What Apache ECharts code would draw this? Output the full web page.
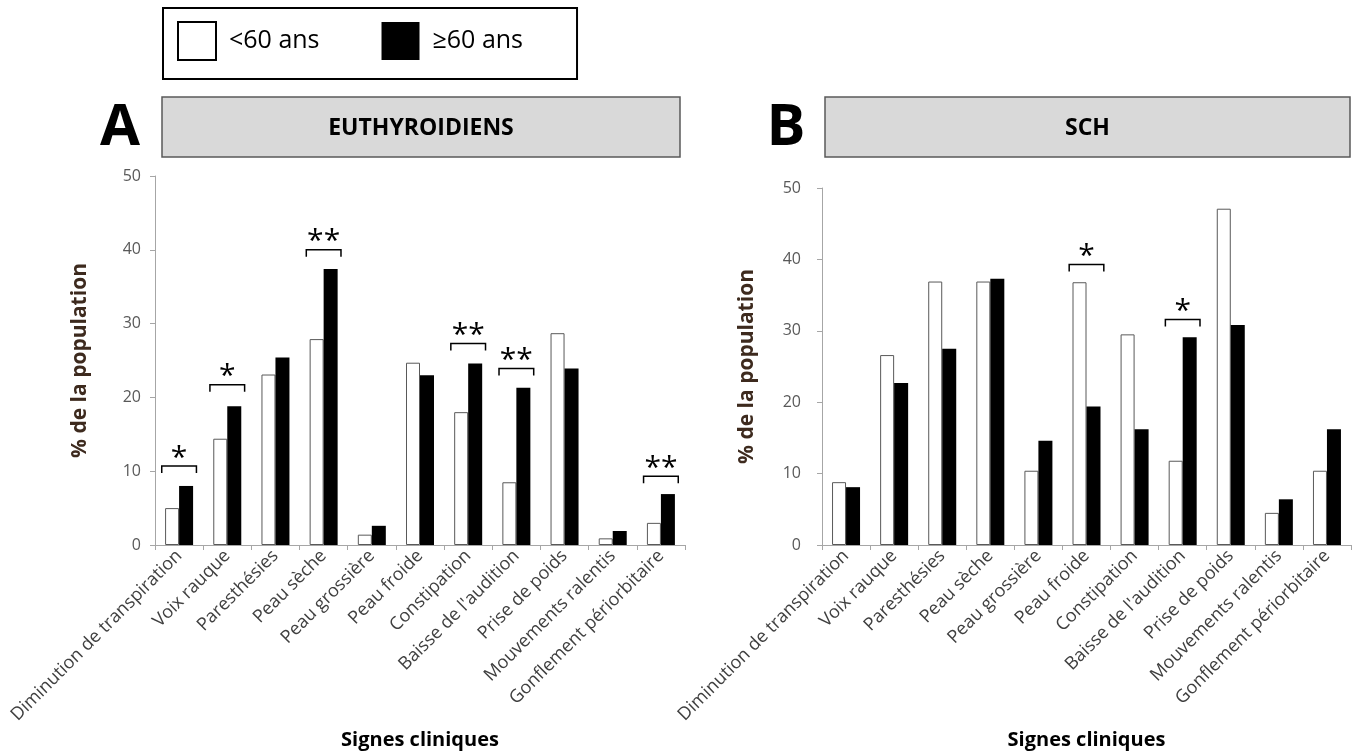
<!DOCTYPE html>
<html>
<head>
<meta charset="utf-8">
<script src="https://cdn.jsdelivr.net/npm/echarts@6/dist/echarts.min.js"></script>
<style>
  html, body { margin: 0; padding: 0; background: #ffffff; }
  #chart { width: 1365px; height: 753px; }
</style>
</head>
<body>
<div id="chart"></div>
<script>
// Clinical signs shared by both panels
const categories = [
  'Diminution de transpiration', 'Voix rauque', 'Paresthésies', 'Peau sèche',
  'Peau grossière', 'Peau froide', 'Constipation', "Baisse de l'audition",
  'Prise de poids', 'Mouvements ralentis', 'Gonflement périorbitaire'
];
const seriesNames = ['<60 ans', '≥60 ans'];

// Panel A – euthyroid patients (% of population)
const euthyUnder60 = [5.0, 14.4, 23.1, 27.9, 1.4, 24.7, 18.0, 8.5, 28.7, 0.9, 3.0];
const euthyOver60  = [8.0, 18.8, 25.4, 37.4, 2.6, 23.0, 24.6, 21.3, 23.9, 1.9, 6.9];

// Panel B – subclinical hypothyroidism (% of population)
const schUnder60 = [8.8, 26.6, 36.9, 36.9, 10.4, 36.8, 29.5, 11.8, 47.1, 4.5, 10.4];
const schOver60  = [8.1, 22.7, 27.5, 37.3, 14.6, 19.4, 16.2, 29.1, 30.8, 6.4, 16.2];

// Y axis ticks
const yMin = 0, yMax = 50, yStep = 10;

// Significance brackets: category index, bracket height, marker
const sigCatsA   = [0, 1, 3, 6, 7, 10];
const sigLevelsA = [10.7, 21.7, 40.0, 27.3, 23.9, 9.3];
const sigMarksA  = ['*', '*', '**', '**', '**', '**'];
const sigCatsB   = [5, 7];
const sigLevelsB = [39.3, 31.6];
const sigMarksB  = ['*', '*'];

const FONT = '"Open Sans", "DejaVu Sans", sans-serif';

function makeSigRenderer(marks) {
  return function (params, api) {
    const p = api.coord([api.value(0), api.value(1)]);
    const half = api.size([1, 0])[0] * 0.36;
    const drop = 7;
    return {
      type: 'group',
      children: [
        {
          type: 'polyline',
          shape: { points: [[p[0] - half, p[1] + drop], [p[0] - half, p[1]], [p[0] + half, p[1]], [p[0] + half, p[1] + drop]] },
          style: { stroke: '#000', lineWidth: 1.5, fill: null }
        },
        {
          type: 'text',
          x: p[0], y: p[1] - 8,
          style: {
            text: marks[params.dataIndex],
            font: 'normal 30px ' + FONT,
            align: 'center', verticalAlign: 'middle', fill: '#000'
          }
        }
      ]
    };
  };
}

function xAxisFor(gridIndex) {
  return {
    type: 'category', gridIndex: gridIndex, data: categories,
    axisLine: { show: true, lineStyle: { color: '#a6a6a6', width: 1 } },
    axisTick: { show: true, length: 5, alignWithLabel: false, interval: 0, lineStyle: { color: '#a6a6a6' } },
    axisLabel: { interval: 0, rotate: 45, fontSize: 18, color: '#404040', fontFamily: FONT, margin: 8 },
    splitLine: { show: false },
    name: 'Signes cliniques', nameLocation: 'middle', nameGap: 185,
    nameTextStyle: { fontSize: 20, fontWeight: 'bold', color: '#000', fontFamily: FONT }
  };
}

function yAxisFor(gridIndex, labelMargin, nameGap) {
  return {
    type: 'value', gridIndex: gridIndex, min: yMin, max: yMax, interval: yStep,
    axisLine: { show: true, lineStyle: { color: '#a6a6a6', width: 1 } },
    axisTick: { show: true, length: 5, lineStyle: { color: '#a6a6a6' } },
    splitLine: { show: false },
    axisLabel: { fontSize: 16, color: '#595959', fontFamily: FONT, margin: labelMargin },
    name: '% de la population', nameLocation: 'middle', nameRotate: 90, nameGap: nameGap,
    nameTextStyle: { fontSize: 21, fontWeight: 'bold', color: '#3d2a1e', fontFamily: FONT }
  };
}

const whiteBar = { color: '#ffffff', borderColor: '#595959', borderWidth: 1 };
const blackBar = { color: '#000000', borderColor: '#000000', borderWidth: 0 };

function barSeries(name, values, axisIndex, style) {
  return {
    type: 'bar', name: name, data: values,
    xAxisIndex: axisIndex, yAxisIndex: axisIndex,
    barWidth: 14, barGap: '0%', itemStyle: style, animation: false
  };
}

function headerBox(x, y, w, h, label) {
  return {
    type: 'group', x: x, y: y,
    children: [
      { type: 'rect', shape: { x: 0, y: 0, width: w, height: h },
        style: { fill: '#d9d9d9', stroke: '#595959', lineWidth: 1.5 } },
      { type: 'text', x: w / 2, y: h / 2 + 1,
        style: { text: label, font: 'bold 23px ' + FONT, fill: '#000', align: 'center', verticalAlign: 'middle' } }
    ]
  };
}

const chart = echarts.init(document.getElementById('chart'), null, { renderer: 'canvas' });

chart.setOption({
  backgroundColor: '#ffffff',
  animation: false,
  textStyle: { fontFamily: FONT },
  legend: {
    left: 163, top: 8,
    orient: 'horizontal',
    itemWidth: 38, itemHeight: 38, itemGap: 62,
    padding: [13, 54, 18, 14],
    borderColor: '#000', borderWidth: 2,
    selectedMode: false,
    textStyle: { fontSize: 25, color: '#000', fontFamily: FONT, padding: [14, 0, 0, 8] },
    data: [
      { name: seriesNames[0], icon: 'rect', itemStyle: { color: '#fff', borderColor: '#000', borderWidth: 2 } },
      { name: seriesNames[1], icon: 'rect', itemStyle: { color: '#000', borderWidth: 0 } }
    ]
  },
  grid: [
    { left: 155, top: 176, width: 530, height: 369, containLabel: false, outerBoundsMode: 'none' },
    { left: 822, top: 188, width: 529, height: 357, containLabel: false, outerBoundsMode: 'none' }
  ],
  xAxis: [xAxisFor(0), xAxisFor(1)],
  yAxis: [yAxisFor(0, 14, 64), yAxisFor(1, 21, 64)],
  series: [
    barSeries(seriesNames[0], euthyUnder60, 0, whiteBar),
    barSeries(seriesNames[1], euthyOver60, 0, blackBar),
    barSeries(seriesNames[0], schUnder60, 1, whiteBar),
    barSeries(seriesNames[1], schOver60, 1, blackBar),
    {
      type: 'custom', xAxisIndex: 0, yAxisIndex: 0, silent: true, z: 5,
      renderItem: makeSigRenderer(sigMarksA),
      data: sigCatsA.map((c, i) => [c, sigLevelsA[i]])
    },
    {
      type: 'custom', xAxisIndex: 1, yAxisIndex: 1, silent: true, z: 5,
      renderItem: makeSigRenderer(sigMarksB),
      data: sigCatsB.map((c, i) => [c, sigLevelsB[i]])
    }
  ],
  graphic: [
    headerBox(162, 97, 518, 60, 'EUTHYROIDIENS'),
    headerBox(825, 97, 525, 60, 'SCH'),
    { type: 'text', x: 120, y: 128, style: { text: 'A', font: 'bold 58px ' + FONT, fill: '#000', align: 'center', verticalAlign: 'middle' } },
    { type: 'text', x: 786, y: 128, style: { text: 'B', font: 'bold 58px ' + FONT, fill: '#000', align: 'center', verticalAlign: 'middle' } }
  ]
});
</script>
</body>
</html>
